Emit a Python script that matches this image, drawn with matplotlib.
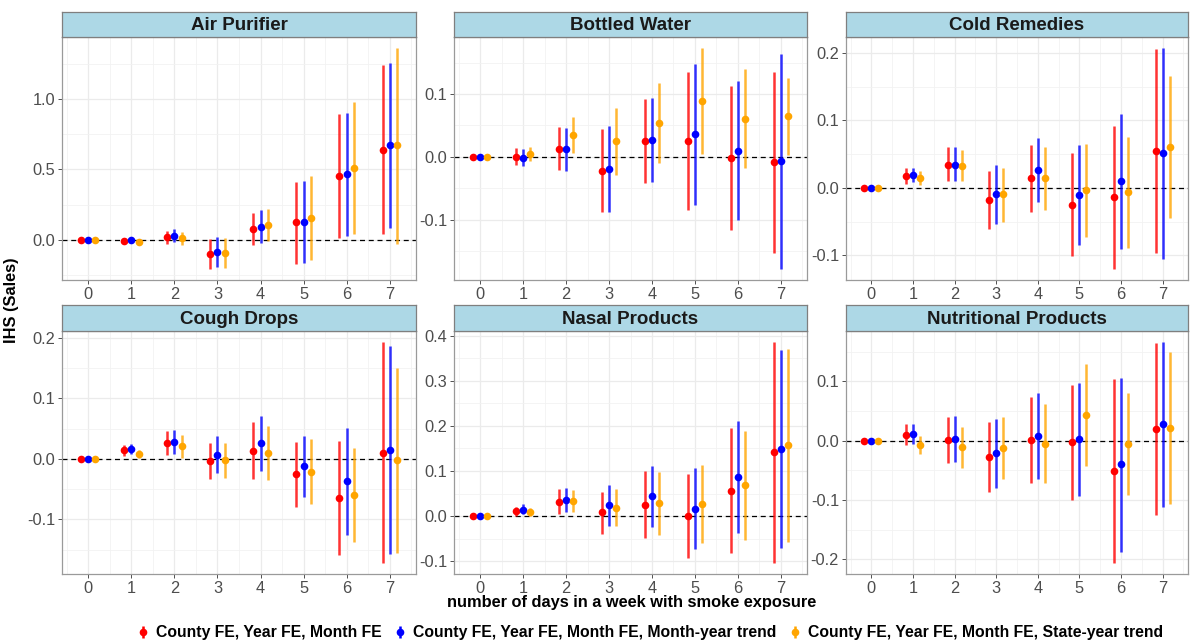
import numpy as np
import matplotlib
matplotlib.use("Agg")
import matplotlib.pyplot as plt
from matplotlib.ticker import MultipleLocator, FuncFormatter
from matplotlib.lines import Line2D

plt.rcParams["font.family"] = ["Liberation Sans", "DejaVu Sans"]

# ---------------------------------------------------------------------------
# data: rows = model (red, blue, orange), cols = days 0..7
# ---------------------------------------------------------------------------
days = [0, 1, 2, 3, 4, 5, 6, 7]
models = ["County FE, Year FE, Month FE",
          "County FE, Year FE, Month FE, Month-year trend",
          "County FE, Year FE, Month FE, State-year trend"]
products = ["Air Purifier", "Bottled Water", "Cold Remedies",
            "Cough Drops", "Nasal Products", "Nutritional Products"]

air_est = [[0, -0.005, 0.02, -0.1, 0.08, 0.125, 0.455, 0.64],
           [0, 0.0, 0.03, -0.085, 0.095, 0.13, 0.465, 0.67],
           [0, -0.015, 0.015, -0.095, 0.105, 0.155, 0.51, 0.67]]
air_hi = [[0, 0.005, 0.062, 0.007, 0.19, 0.41, 0.89, 1.24],
          [0, 0.01, 0.075, 0.02, 0.21, 0.415, 0.9, 1.255],
          [0, -0.005, 0.06, 0.015, 0.22, 0.45, 0.975, 1.36]]
air_lo = [[0, -0.015, -0.028, -0.205, -0.035, -0.17, 0.015, 0.045],
          [0, -0.01, -0.015, -0.19, -0.02, -0.16, 0.025, 0.085],
          [0, -0.025, -0.035, -0.195, -0.01, -0.14, 0.045, -0.025]]

water_est = [[0, 0.0, 0.013, -0.022, 0.025, 0.025, -0.002, -0.008],
             [0, -0.001, 0.012, -0.019, 0.027, 0.036, 0.01, -0.007],
             [0, 0.005, 0.035, 0.025, 0.054, 0.089, 0.061, 0.065]]
water_hi = [[0, 0.014, 0.047, 0.044, 0.092, 0.135, 0.113, 0.135],
            [0, 0.013, 0.046, 0.049, 0.094, 0.148, 0.12, 0.164],
            [0, 0.016, 0.064, 0.077, 0.117, 0.173, 0.139, 0.126]]
water_lo = [[0, -0.013, -0.02, -0.088, -0.042, -0.084, -0.116, -0.152],
            [0, -0.014, -0.022, -0.087, -0.04, -0.077, -0.1, -0.178],
            [0, -0.006, 0.006, -0.029, -0.01, 0.004, -0.017, 0.003]]

cold_est = [[0, 0.018, 0.034, -0.018, 0.014, -0.025, -0.014, 0.054],
            [0, 0.019, 0.034, -0.009, 0.027, -0.01, 0.01, 0.051],
            [0, 0.015, 0.033, -0.009, 0.014, -0.003, -0.006, 0.061]]
cold_hi = [[0, 0.03, 0.06, 0.025, 0.063, 0.052, 0.092, 0.205],
           [0, 0.03, 0.06, 0.034, 0.074, 0.064, 0.11, 0.207],
           [0, 0.025, 0.056, 0.03, 0.06, 0.065, 0.075, 0.166]]
cold_lo = [[0, 0.006, 0.01, -0.061, -0.035, -0.101, -0.12, -0.097],
           [0, 0.008, 0.01, -0.053, -0.021, -0.084, -0.091, -0.106],
           [0, 0.005, 0.01, -0.05, -0.033, -0.072, -0.089, -0.044]]

cough_est = [[0, 0.014, 0.026, -0.003, 0.013, -0.025, -0.065, 0.01],
             [0, 0.017, 0.028, 0.006, 0.026, -0.012, -0.037, 0.014],
             [0, 0.008, 0.021, -0.002, 0.01, -0.021, -0.059, -0.002]]
cough_hi = [[0, 0.023, 0.046, 0.027, 0.061, 0.028, 0.03, 0.193],
            [0, 0.025, 0.048, 0.037, 0.071, 0.038, 0.051, 0.186],
            [0, 0.014, 0.04, 0.026, 0.055, 0.033, 0.018, 0.15]]
cough_lo = [[0, 0.005, 0.006, -0.034, -0.034, -0.08, -0.159, -0.172],
            [0, 0.008, 0.008, -0.024, -0.02, -0.063, -0.126, -0.158],
            [0, 0.002, 0.002, -0.031, -0.035, -0.074, -0.137, -0.155]]

nasal_est = [[0, 0.011, 0.032, 0.008, 0.025, 0.001, 0.055, 0.141],
             [0, 0.014, 0.036, 0.024, 0.044, 0.016, 0.086, 0.148],
             [0, 0.008, 0.033, 0.018, 0.028, 0.027, 0.068, 0.157]]
nasal_hi = [[0, 0.021, 0.059, 0.054, 0.099, 0.094, 0.195, 0.386],
            [0, 0.026, 0.063, 0.07, 0.112, 0.106, 0.21, 0.368],
            [0, 0.018, 0.058, 0.06, 0.098, 0.113, 0.188, 0.37]]
nasal_lo = [[0, 0.001, 0.005, -0.039, -0.048, -0.093, -0.083, -0.104],
            [0, 0.004, 0.009, -0.021, -0.024, -0.074, -0.037, -0.07],
            [0, 0.0, 0.008, -0.022, -0.043, -0.059, -0.052, -0.057]]

nutri_est = [[0, 0.01, 0.001, -0.028, 0.001, -0.003, -0.051, 0.019],
             [0, 0.011, 0.003, -0.021, 0.008, 0.002, -0.04, 0.028],
             [0, -0.007, -0.011, -0.012, -0.005, 0.043, -0.005, 0.022]]
nutri_hi = [[0, 0.028, 0.04, 0.031, 0.074, 0.093, 0.103, 0.164],
            [0, 0.028, 0.041, 0.037, 0.08, 0.097, 0.106, 0.166],
            [0, 0.008, 0.023, 0.04, 0.061, 0.129, 0.081, 0.15]]
nutri_lo = [[0, -0.008, -0.038, -0.086, -0.072, -0.1, -0.206, -0.125],
            [0, -0.006, -0.036, -0.08, -0.065, -0.094, -0.188, -0.111],
            [0, -0.022, -0.046, -0.065, -0.072, -0.042, -0.092, -0.107]]

panel_data = [(air_est, air_lo, air_hi, 0.5),
              (water_est, water_lo, water_hi, 0.1),
              (cold_est, cold_lo, cold_hi, 0.1),
              (cough_est, cough_lo, cough_hi, 0.1),
              (nasal_est, nasal_lo, nasal_hi, 0.1),
              (nutri_est, nutri_lo, nutri_hi, 0.1)]

colors = ["#FF0000", "#0000FF", "#FFA500"]
dodge = [-0.167, 0.0, 0.167]

# ---------------------------------------------------------------------------
# layout (pixel boxes of the panels)
# ---------------------------------------------------------------------------
W, H = 1194, 644
fig = plt.figure(figsize=(W / 100, H / 100), dpi=100)

col_x = [(62, 416), (454, 807), (846, 1188)]
row_y = [(12, 37, 280), (305, 331, 574)]   # strip top, strip bottom, plot bottom


def px_box(x0, y0, x1, y1):
    return [x0 / W, 1 - y1 / H, (x1 - x0) / W, (y1 - y0) / H]


fmt = FuncFormatter(lambda v, _: f"{round(v, 1) + 0:.1f}")

for i, (name, (est, lo, hi, step)) in enumerate(zip(products, panel_data)):
    r, c = divmod(i, 3)
    x0, x1 = col_x[c]
    st, sb, pb = row_y[r]
    ax = fig.add_axes(px_box(x0, sb, x1, pb))

    for k in range(3):
        xs = np.array(days) + dodge[k]
        ax.vlines(xs, lo[k], hi[k], color=colors[k], lw=1.8, alpha=0.8, zorder=3)
        ax.plot(xs, est[k], "o", color=colors[k], ms=5.5, mec="none", zorder=4)

    ax.axhline(0, color="black", ls=(0, (4, 3)), lw=0.9, zorder=2)

    ymin = min(min(row) for row in lo)
    ymax = max(max(row) for row in hi)
    pad = 0.05 * (ymax - ymin)
    ax.set_ylim(ymin - pad, ymax + pad)
    ax.set_xlim(-0.61, 7.61)

    ax.xaxis.set_major_locator(MultipleLocator(1))
    ax.xaxis.set_minor_locator(MultipleLocator(0.5))
    ax.yaxis.set_major_locator(MultipleLocator(step))
    ax.yaxis.set_minor_locator(MultipleLocator(step / 2))
    ax.yaxis.set_major_formatter(fmt)
    ax.grid(which="major", color="#EBEBEB", lw=0.9, zorder=0)
    ax.grid(which="minor", color="#F2F2F2", lw=0.6, zorder=0)
    ax.set_axisbelow(True)

    ax.tick_params(which="major", length=3, width=0.6, color="#333333",
                   labelsize=11.8, labelcolor="#4D4D4D", pad=2)
    ax.tick_params(which="minor", length=0)
    for sp in ax.spines.values():
        sp.set_color("#9A9A9A")
        sp.set_linewidth(0.9)

    # facet strip
    sax = fig.add_axes(px_box(x0, st, x1, sb))
    sax.set_facecolor("#ADD8E6")
    sax.set_xticks([])
    sax.set_yticks([])
    for sp in sax.spines.values():
        sp.set_color("#7F7F7F")
        sp.set_linewidth(0.9)
    sax.text(0.5, 0.45, name, ha="center", va="center", fontsize=13.5,
             fontweight="bold", color="#1A1A1A", transform=sax.transAxes)

# axis titles
fig.text(12 / W, 1 - 300 / H, "IHS (Sales)", rotation=90, ha="center",
         va="center", fontsize=11.8, fontweight="bold")
fig.text(632 / W, 1 - 603 / H, "number of days in a week with smoke exposure",
         ha="center", va="center", fontsize=11.8, fontweight="bold")

# legend: point-range style keys
handles = []
for k in range(3):
    handles.append((Line2D([], [], color=colors[k], lw=1.8, marker="|", ms=9, mew=1.8, ls="none"),
                    Line2D([], [], color=colors[k], marker="o", ms=5.5, ls="none", mec="none")))
fig.legend(handles, models, loc="center", bbox_to_anchor=(650 / W, 1 - 633 / H),
           ncol=3, frameon=False, handlelength=0.8, handletextpad=0.4,
           columnspacing=0.8, prop={"weight": "bold", "size": 11.3})

fig.savefig("out.png", dpi=100)
